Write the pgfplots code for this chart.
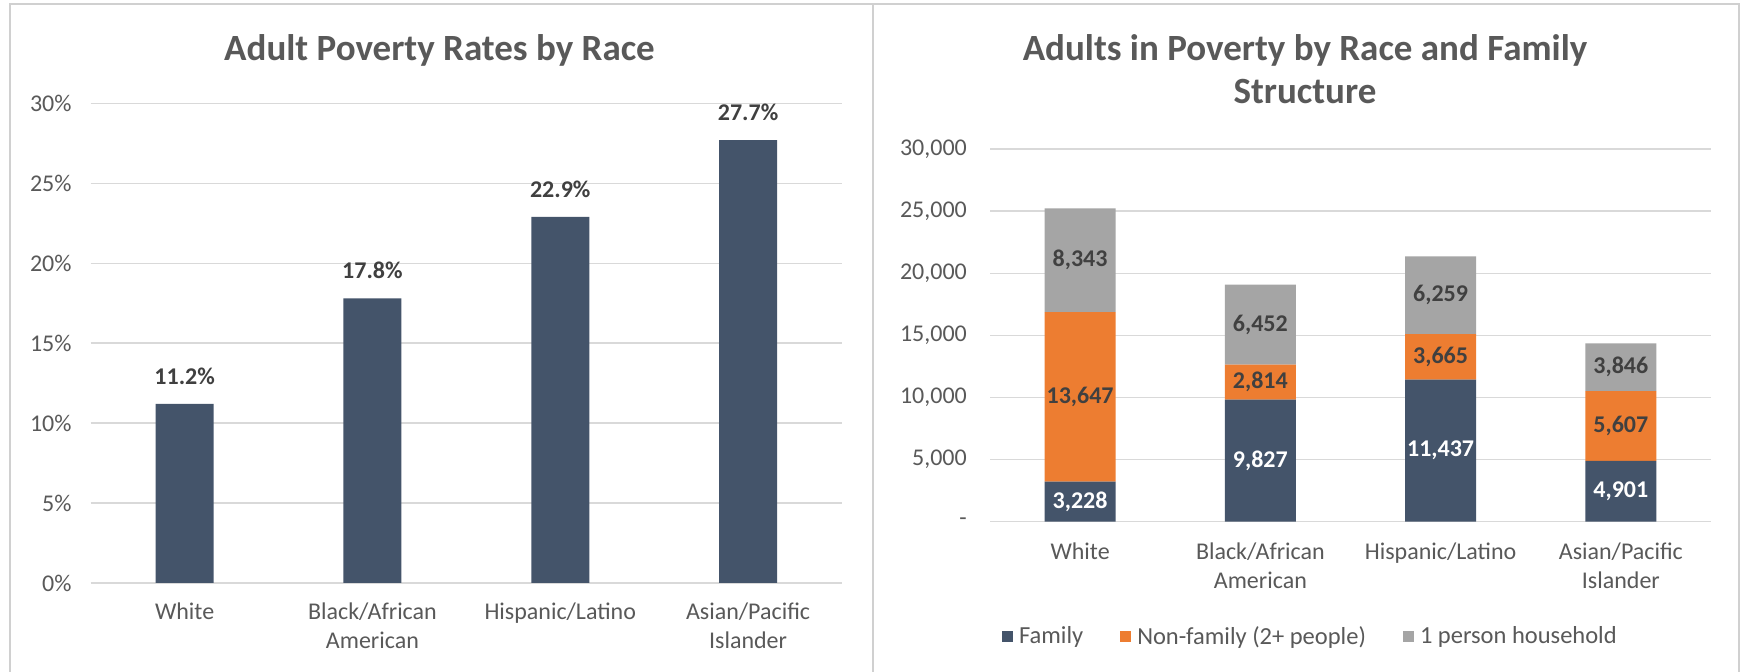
\documentclass[border=0pt]{standalone}
\usepackage{fontspec}
\setmainfont{Carlito}
\usepackage{pgfplots}
\usepackage{pgfplotstable}
\pgfplotsset{compat=1.18}
\pgfplotsset{/pgf/number format/assume math mode=true}
\definecolor{barblue}{HTML}{44546A}
\definecolor{barorange}{HTML}{ED7D31}
\definecolor{bargray}{HTML}{A5A5A5}
\definecolor{txt}{HTML}{595959}
\definecolor{lbl}{HTML}{404040}
\definecolor{gridc}{HTML}{D9D9D9}
\definecolor{border}{HTML}{D0D0D0}

\pgfplotstableread{
x y
0 3228
1 9827
2 11437
3 4901
}\family
\pgfplotstableread{
x y
0 13647
1 2814
2 3665
3 5607
}\nonfamily
\pgfplotstableread{
x y
0 8343
1 6452
2 6259
3 3846
}\oneperson

\pgfplotsset{
  segl/.style={nodes near coords={\pgfmathprintnumber[fixed,precision=0,1000 sep={,}]{\pgfplotspointmeta}},
    point meta=explicit,
    every node near coord/.append style={anchor=center, inner sep=0pt,
      font=\bfseries\fontsize{24}{29}\selectfont, text=#1}},
  sq/.style={legend image code/.code={\path[##1,draw=none] (0pt,-5.5pt) rectangle (11pt,5.5pt);}},
  common/.style={
    scale only axis, xmin=-0.5, xmax=3.5, ymin=0,
    xtick={0,1,2,3},
    xticklabels={White, Black/African\\American, Hispanic/Latino, Asian/Pacific\\Islander},
    ymajorgrids, grid style={gridc, line width=1.3pt},
    axis line style={draw=none}, major tick length=0pt,
    tick label style={font=\fontsize{24}{29}\selectfont, text=txt, inner sep=0pt},
    xticklabel style={align=center, yshift=-20pt},
    clip=false,
  }
}

\begin{document}
\begin{tikzpicture}
\useasboundingbox (0,0) rectangle (1741pt,672pt);
\fill[white] (0,0) rectangle (1741pt,672pt);
\draw[border, line width=2pt] (10pt,0pt) -- (10pt,668pt) -- (1739pt,668pt) -- (1739pt,0pt);
\draw[border, line width=2pt] (873pt,0pt) -- (873pt,668pt);

\node[anchor=base, font=\bfseries\fontsize{37}{44}\selectfont, text=txt] at (439.5pt,611pt) {Adult Poverty Rates by Race};
\node[anchor=base, font=\bfseries\fontsize{37}{44}\selectfont, text=txt] at (1305pt,611pt) {Adults in Poverty by Race and Family};
\node[anchor=base, font=\bfseries\fontsize{37}{44}\selectfont, text=txt] at (1305pt,568pt) {Structure};

\begin{axis}[common,
  at={(90.7pt,89pt)}, anchor=south west,
  width=751.3pt, height=479.7pt,
  ymax=30, ybar, bar width=58pt,
  ytick={0,5,10,15,20,25,30},
  yticklabels={0\%,5\%,10\%,15\%,20\%,25\%,30\%},
  yticklabel style={xshift=-19pt},
  nodes near coords={\pgfmathprintnumber[fixed,fixed zerofill,precision=1]{\pgfplotspointmeta}\%},
  every node near coord/.append style={font=\bfseries\fontsize{24}{29}\selectfont, text=lbl, inner sep=0pt, anchor=south, yshift=19pt},
]
\addplot[fill=barblue, draw=none] coordinates {(0,11.2) (1,17.8) (2,22.9) (3,27.7)};
\end{axis}

\begin{axis}[common,
  at={(990pt,150.3pt)}, anchor=south west,
  width=721pt, height=372.7pt,
  ymax=30000, ybar stacked, bar width=71pt,
  ytick={0,5000,10000,15000,20000,25000,30000},
  yticklabels={-,{5,000},{10,000},{15,000},{20,000},{25,000},{30,000}},
  scaled y ticks=false,
  yticklabel style={xshift=-23pt},
  xticklabel style={yshift=-1pt},
  legend style={at={(0.443,-0.3067)}, anchor=center, draw=none, fill=none,
    legend columns=3, font=\fontsize{24.5}{29}\selectfont, text=txt,
    nodes={inner sep=0pt},
    /tikz/every odd column/.append style={column sep=6pt},
    /tikz/every even column/.append style={column sep=37pt}},
]
\addplot[fill=barblue, draw=none, segl=white, sq] table[x=x,y=y,meta=y] {\family};
\addlegendentry{Family}
\addplot[fill=barorange, draw=none, segl=lbl, sq] table[x=x,y=y,meta=y] {\nonfamily};
\addlegendentry{Non-family (2+ people)}
\addplot[fill=bargray, draw=none, segl=lbl, sq] table[x=x,y=y,meta=y] {\oneperson};
\addlegendentry{1 person household}
\end{axis}
\end{tikzpicture}
\end{document}
